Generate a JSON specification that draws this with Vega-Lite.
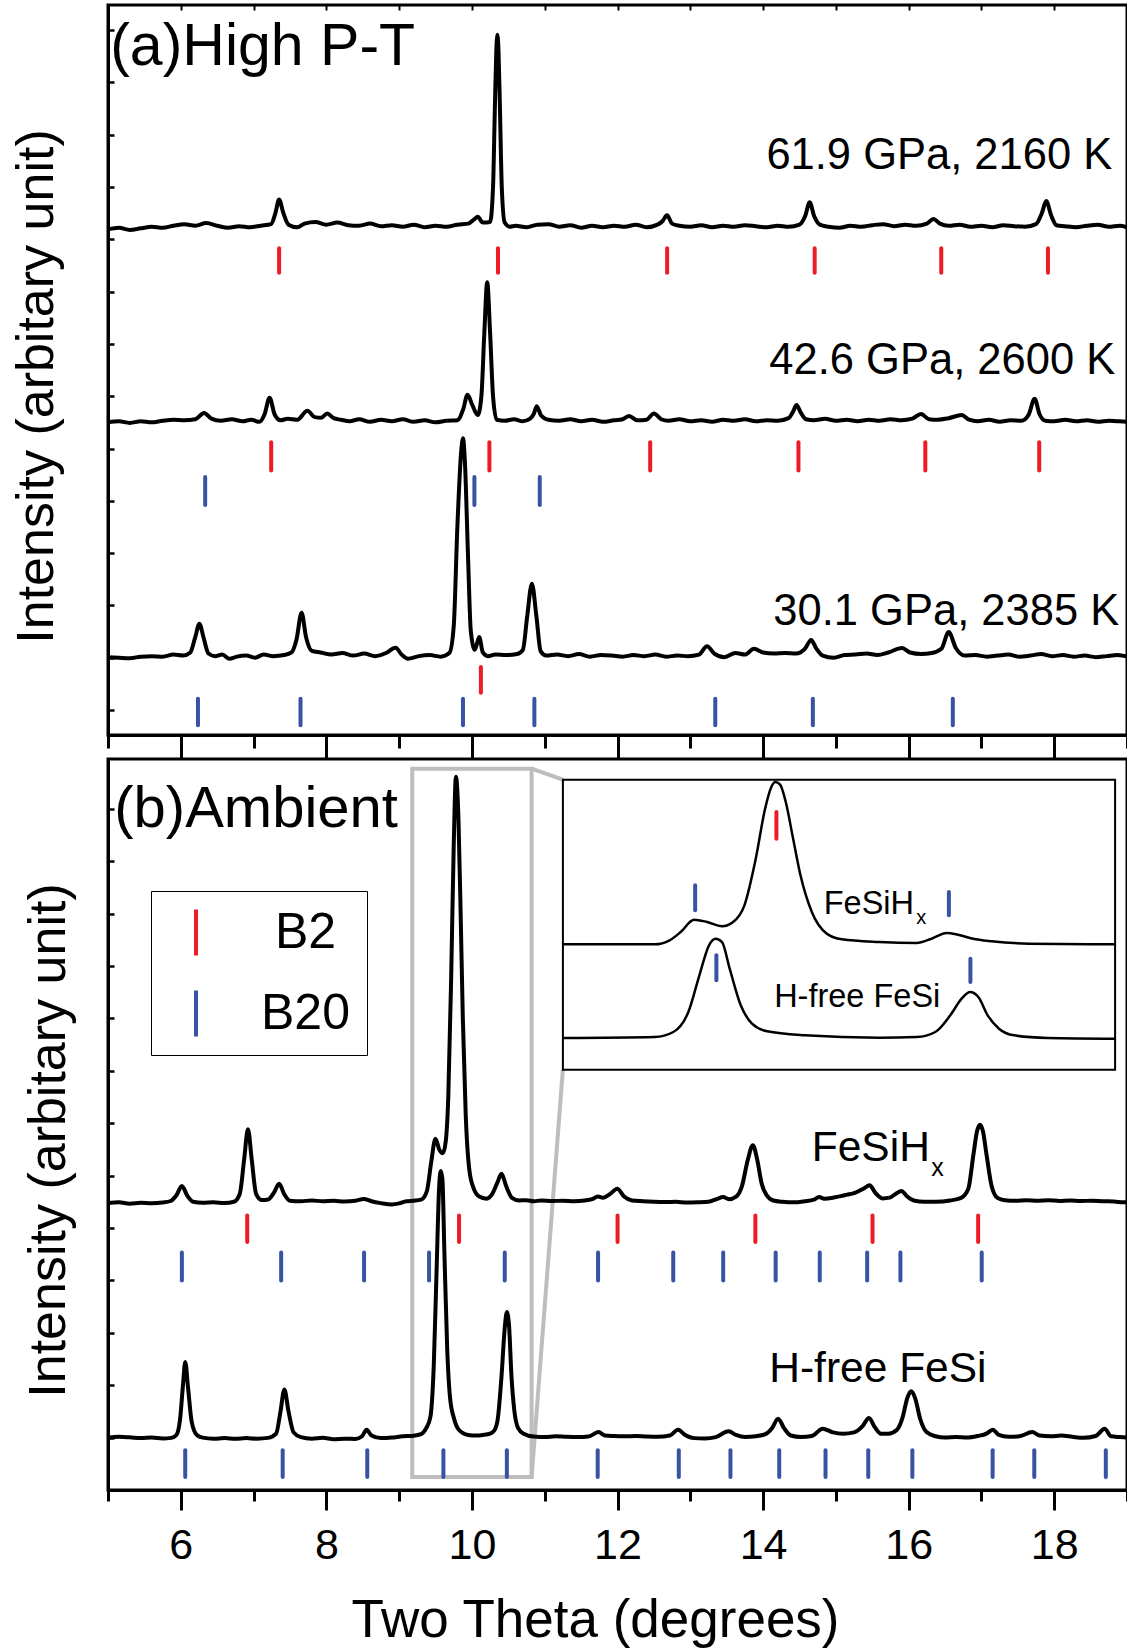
{
"$schema": "https://vega.github.io/schema/vega-lite/v6.json",
"padding": {"left": 8, "top": 2, "right": 0, "bottom": 0},
"spacing": 24,
"bounds": "flush",
"config": {
  "font": "Liberation Sans",
  "view": {"stroke": "black", "strokeWidth": 3},
  "axis": {"grid": false, "domainColor": "black", "domainWidth": 3, "tickColor": "black", "labelColor": "black", "titleColor": "black", "titleFontWeight": "normal", "labelFont": "Liberation Sans", "titleFont": "Liberation Sans"},
  "text": {"font": "Liberation Sans", "color": "black"}
},
"resolve": {"scale": {"color": "independent"}, "legend": {"color": "independent"}},
"datasets": {
  "a_curves": [
{"s":"p62","t":5.0,"v":91.9},{"s":"p62","t":5.15,"v":92.2},{"s":"p62","t":5.3,"v":91.8},{"s":"p62","t":5.45,"v":92.1},{"s":"p62","t":5.6,"v":92.4},{"s":"p62","t":5.75,"v":92.2},{"s":"p62","t":5.9,"v":92.6},{"s":"p62","t":6.05,"v":92.9},{"s":"p62","t":6.2,"v":92.6},{"s":"p62","t":6.35,"v":93.1},{"s":"p62","t":6.5,"v":92.6},{"s":"p62","t":6.65,"v":92.2},{"s":"p62","t":6.8,"v":92.5},{"s":"p62","t":6.95,"v":92.3},{"s":"p62","t":7.1,"v":92.6},{"s":"p62","t":7.24,"v":92.9},{"s":"p62","t":7.3,"v":95.0},{"s":"p62","t":7.35,"v":97.6},{"s":"p62","t":7.41,"v":95.0},{"s":"p62","t":7.48,"v":92.8},{"s":"p62","t":7.6,"v":92.3},{"s":"p62","t":7.7,"v":93.0},{"s":"p62","t":7.85,"v":93.3},{"s":"p62","t":8.0,"v":92.8},{"s":"p62","t":8.15,"v":93.2},{"s":"p62","t":8.3,"v":92.7},{"s":"p62","t":8.45,"v":92.6},{"s":"p62","t":8.6,"v":93.0},{"s":"p62","t":8.75,"v":92.5},{"s":"p62","t":8.9,"v":92.7},{"s":"p62","t":9.05,"v":92.4},{"s":"p62","t":9.2,"v":92.8},{"s":"p62","t":9.35,"v":92.3},{"s":"p62","t":9.5,"v":92.6},{"s":"p62","t":9.65,"v":92.4},{"s":"p62","t":9.8,"v":92.8},{"s":"p62","t":9.95,"v":93.0},{"s":"p62","t":10.03,"v":93.8},{"s":"p62","t":10.08,"v":94.3},{"s":"p62","t":10.15,"v":93.2},{"s":"p62","t":10.25,"v":93.3},{"s":"p62","t":10.29,"v":100},{"s":"p62","t":10.315,"v":115},{"s":"p62","t":10.335,"v":126},{"s":"p62","t":10.35,"v":129.1},{"s":"p62","t":10.365,"v":126},{"s":"p62","t":10.385,"v":115},{"s":"p62","t":10.41,"v":100},{"s":"p62","t":10.45,"v":93.2},{"s":"p62","t":10.52,"v":92.4},{"s":"p62","t":10.6,"v":92.6},{"s":"p62","t":10.75,"v":92.3},{"s":"p62","t":10.9,"v":92.8},{"s":"p62","t":11.05,"v":92.9},{"s":"p62","t":11.2,"v":92.4},{"s":"p62","t":11.35,"v":92.7},{"s":"p62","t":11.5,"v":92.2},{"s":"p62","t":11.65,"v":92.6},{"s":"p62","t":11.8,"v":92.3},{"s":"p62","t":11.95,"v":92.6},{"s":"p62","t":12.1,"v":92.4},{"s":"p62","t":12.25,"v":92.8},{"s":"p62","t":12.4,"v":92.3},{"s":"p62","t":12.55,"v":92.8},{"s":"p62","t":12.62,"v":93.5},{"s":"p62","t":12.68,"v":94.6},{"s":"p62","t":12.75,"v":93.0},{"s":"p62","t":12.85,"v":92.6},{"s":"p62","t":13.0,"v":92.4},{"s":"p62","t":13.15,"v":92.7},{"s":"p62","t":13.3,"v":92.3},{"s":"p62","t":13.45,"v":92.6},{"s":"p62","t":13.6,"v":92.4},{"s":"p62","t":13.75,"v":92.7},{"s":"p62","t":13.9,"v":92.5},{"s":"p62","t":14.05,"v":92.3},{"s":"p62","t":14.2,"v":92.6},{"s":"p62","t":14.35,"v":92.4},{"s":"p62","t":14.5,"v":92.8},{"s":"p62","t":14.58,"v":94.5},{"s":"p62","t":14.64,"v":97.1},{"s":"p62","t":14.7,"v":94.5},{"s":"p62","t":14.78,"v":92.8},{"s":"p62","t":14.9,"v":92.4},{"s":"p62","t":15.05,"v":92.2},{"s":"p62","t":15.2,"v":92.6},{"s":"p62","t":15.35,"v":92.4},{"s":"p62","t":15.5,"v":92.7},{"s":"p62","t":15.65,"v":92.9},{"s":"p62","t":15.8,"v":92.5},{"s":"p62","t":15.95,"v":92.8},{"s":"p62","t":16.1,"v":92.6},{"s":"p62","t":16.25,"v":93.0},{"s":"p62","t":16.34,"v":93.9},{"s":"p62","t":16.43,"v":93.0},{"s":"p62","t":16.55,"v":92.6},{"s":"p62","t":16.7,"v":92.8},{"s":"p62","t":16.85,"v":92.4},{"s":"p62","t":17.0,"v":92.6},{"s":"p62","t":17.15,"v":92.3},{"s":"p62","t":17.3,"v":92.7},{"s":"p62","t":17.45,"v":92.5},{"s":"p62","t":17.6,"v":92.4},{"s":"p62","t":17.75,"v":92.9},{"s":"p62","t":17.83,"v":95.0},{"s":"p62","t":17.89,"v":97.3},{"s":"p62","t":17.96,"v":94.5},{"s":"p62","t":18.03,"v":92.7},{"s":"p62","t":18.15,"v":92.5},{"s":"p62","t":18.3,"v":92.3},{"s":"p62","t":18.45,"v":92.6},{"s":"p62","t":18.6,"v":92.8},{"s":"p62","t":18.75,"v":92.4},{"s":"p62","t":18.9,"v":92.6},{"s":"p62","t":19.0,"v":92.3},
{"s":"p43","t":5.0,"v":55.0},{"s":"p43","t":5.15,"v":55.2},{"s":"p43","t":5.3,"v":54.9},{"s":"p43","t":5.45,"v":55.2},{"s":"p43","t":5.6,"v":55.0},{"s":"p43","t":5.75,"v":55.3},{"s":"p43","t":5.9,"v":55.5},{"s":"p43","t":6.05,"v":55.4},{"s":"p43","t":6.2,"v":55.6},{"s":"p43","t":6.32,"v":56.8},{"s":"p43","t":6.42,"v":55.7},{"s":"p43","t":6.55,"v":55.3},{"s":"p43","t":6.7,"v":55.6},{"s":"p43","t":6.85,"v":55.2},{"s":"p43","t":6.97,"v":55.5},{"s":"p43","t":7.08,"v":55.1},{"s":"p43","t":7.15,"v":56.5},{"s":"p43","t":7.22,"v":59.7},{"s":"p43","t":7.29,"v":56.5},{"s":"p43","t":7.37,"v":55.4},{"s":"p43","t":7.47,"v":55.7},{"s":"p43","t":7.6,"v":55.5},{"s":"p43","t":7.74,"v":57.2},{"s":"p43","t":7.84,"v":56.0},{"s":"p43","t":7.93,"v":55.9},{"s":"p43","t":8.01,"v":56.7},{"s":"p43","t":8.1,"v":55.8},{"s":"p43","t":8.2,"v":55.5},{"s":"p43","t":8.32,"v":55.2},{"s":"p43","t":8.45,"v":55.6},{"s":"p43","t":8.6,"v":55.1},{"s":"p43","t":8.75,"v":55.5},{"s":"p43","t":8.9,"v":55.2},{"s":"p43","t":9.05,"v":55.6},{"s":"p43","t":9.2,"v":55.1},{"s":"p43","t":9.35,"v":55.4},{"s":"p43","t":9.5,"v":55.0},{"s":"p43","t":9.65,"v":55.3},{"s":"p43","t":9.8,"v":55.4},{"s":"p43","t":9.88,"v":57.5},{"s":"p43","t":9.94,"v":60.3},{"s":"p43","t":10.0,"v":58.5},{"s":"p43","t":10.08,"v":56.4},{"s":"p43","t":10.13,"v":60},{"s":"p43","t":10.17,"v":72},{"s":"p43","t":10.21,"v":81.8},{"s":"p43","t":10.25,"v":72},{"s":"p43","t":10.29,"v":60},{"s":"p43","t":10.34,"v":55.5},{"s":"p43","t":10.45,"v":55.3},{"s":"p43","t":10.58,"v":55.6},{"s":"p43","t":10.7,"v":55.2},{"s":"p43","t":10.8,"v":55.7},{"s":"p43","t":10.85,"v":56.6},{"s":"p43","t":10.89,"v":58.1},{"s":"p43","t":10.95,"v":56.3},{"s":"p43","t":11.05,"v":55.5},{"s":"p43","t":11.2,"v":55.3},{"s":"p43","t":11.35,"v":55.6},{"s":"p43","t":11.5,"v":55.2},{"s":"p43","t":11.65,"v":55.5},{"s":"p43","t":11.8,"v":55.1},{"s":"p43","t":11.95,"v":55.4},{"s":"p43","t":12.07,"v":55.6},{"s":"p43","t":12.16,"v":56.2},{"s":"p43","t":12.27,"v":55.4},{"s":"p43","t":12.4,"v":55.5},{"s":"p43","t":12.5,"v":56.7},{"s":"p43","t":12.6,"v":55.6},{"s":"p43","t":12.7,"v":55.3},{"s":"p43","t":12.85,"v":55.6},{"s":"p43","t":13.0,"v":55.2},{"s":"p43","t":13.15,"v":55.4},{"s":"p43","t":13.3,"v":55.1},{"s":"p43","t":13.45,"v":55.5},{"s":"p43","t":13.6,"v":55.3},{"s":"p43","t":13.75,"v":55.6},{"s":"p43","t":13.9,"v":55.2},{"s":"p43","t":14.05,"v":55.4},{"s":"p43","t":14.2,"v":55.3},{"s":"p43","t":14.35,"v":55.8},{"s":"p43","t":14.41,"v":57.0},{"s":"p43","t":14.46,"v":58.3},{"s":"p43","t":14.52,"v":56.8},{"s":"p43","t":14.59,"v":55.6},{"s":"p43","t":14.7,"v":55.4},{"s":"p43","t":14.85,"v":55.7},{"s":"p43","t":15.0,"v":55.3},{"s":"p43","t":15.15,"v":55.5},{"s":"p43","t":15.3,"v":55.2},{"s":"p43","t":15.45,"v":55.5},{"s":"p43","t":15.6,"v":55.3},{"s":"p43","t":15.75,"v":55.6},{"s":"p43","t":15.9,"v":55.4},{"s":"p43","t":16.05,"v":55.7},{"s":"p43","t":16.17,"v":56.6},{"s":"p43","t":16.28,"v":55.6},{"s":"p43","t":16.4,"v":55.5},{"s":"p43","t":16.55,"v":55.8},{"s":"p43","t":16.73,"v":56.4},{"s":"p43","t":16.83,"v":55.5},{"s":"p43","t":16.95,"v":55.2},{"s":"p43","t":17.1,"v":55.5},{"s":"p43","t":17.25,"v":55.1},{"s":"p43","t":17.4,"v":55.4},{"s":"p43","t":17.55,"v":55.3},{"s":"p43","t":17.65,"v":56.5},{"s":"p43","t":17.73,"v":59.5},{"s":"p43","t":17.8,"v":56.5},{"s":"p43","t":17.88,"v":55.3},{"s":"p43","t":18.0,"v":55.2},{"s":"p43","t":18.15,"v":55.5},{"s":"p43","t":18.3,"v":55.2},{"s":"p43","t":18.45,"v":55.4},{"s":"p43","t":18.6,"v":55.1},{"s":"p43","t":18.75,"v":55.3},{"s":"p43","t":18.9,"v":55.2},{"s":"p43","t":19.0,"v":55.1},
{"s":"p30","t":5.0,"v":10.1},{"s":"p30","t":5.15,"v":10.0},{"s":"p30","t":5.3,"v":9.9},{"s":"p30","t":5.45,"v":10.2},{"s":"p30","t":5.6,"v":10.3},{"s":"p30","t":5.75,"v":10.2},{"s":"p30","t":5.9,"v":10.6},{"s":"p30","t":6.03,"v":10.4},{"s":"p30","t":6.13,"v":11.0},{"s":"p30","t":6.2,"v":14.0},{"s":"p30","t":6.256,"v":16.5},{"s":"p30","t":6.31,"v":14.0},{"s":"p30","t":6.38,"v":10.8},{"s":"p30","t":6.47,"v":10.3},{"s":"p30","t":6.57,"v":10.6},{"s":"p30","t":6.67,"v":9.8},{"s":"p30","t":6.77,"v":10.2},{"s":"p30","t":6.9,"v":10.4},{"s":"p30","t":7.02,"v":10.0},{"s":"p30","t":7.14,"v":10.6},{"s":"p30","t":7.27,"v":10.3},{"s":"p30","t":7.42,"v":10.5},{"s":"p30","t":7.52,"v":11.0},{"s":"p30","t":7.59,"v":13.5},{"s":"p30","t":7.66,"v":18.6},{"s":"p30","t":7.72,"v":14.0},{"s":"p30","t":7.8,"v":11.3},{"s":"p30","t":7.92,"v":11.0},{"s":"p30","t":8.07,"v":10.6},{"s":"p30","t":8.22,"v":10.9},{"s":"p30","t":8.37,"v":10.4},{"s":"p30","t":8.52,"v":10.8},{"s":"p30","t":8.67,"v":10.3},{"s":"p30","t":8.82,"v":10.9},{"s":"p30","t":8.95,"v":11.9},{"s":"p30","t":9.04,"v":10.5},{"s":"p30","t":9.12,"v":9.8},{"s":"p30","t":9.27,"v":10.3},{"s":"p30","t":9.42,"v":10.5},{"s":"p30","t":9.57,"v":10.2},{"s":"p30","t":9.69,"v":10.9},{"s":"p30","t":9.75,"v":16},{"s":"p30","t":9.8,"v":35},{"s":"p30","t":9.85,"v":49},{"s":"p30","t":9.877,"v":51.95},{"s":"p30","t":9.905,"v":47},{"s":"p30","t":9.945,"v":30},{"s":"p30","t":9.985,"v":15},{"s":"p30","t":10.04,"v":11.5},{"s":"p30","t":10.1,"v":13.96},{"s":"p30","t":10.15,"v":11.0},{"s":"p30","t":10.22,"v":10.3},{"s":"p30","t":10.32,"v":10.6},{"s":"p30","t":10.47,"v":10.5},{"s":"p30","t":10.62,"v":10.7},{"s":"p30","t":10.7,"v":11.5},{"s":"p30","t":10.76,"v":18},{"s":"p30","t":10.824,"v":24.15},{"s":"p30","t":10.885,"v":18},{"s":"p30","t":10.945,"v":11.2},{"s":"p30","t":11.02,"v":10.4},{"s":"p30","t":11.17,"v":10.6},{"s":"p30","t":11.32,"v":10.3},{"s":"p30","t":11.47,"v":10.7},{"s":"p30","t":11.62,"v":10.2},{"s":"p30","t":11.77,"v":10.5},{"s":"p30","t":11.92,"v":10.4},{"s":"p30","t":12.07,"v":10.2},{"s":"p30","t":12.22,"v":10.5},{"s":"p30","t":12.37,"v":10.3},{"s":"p30","t":12.52,"v":10.6},{"s":"p30","t":12.67,"v":10.2},{"s":"p30","t":12.82,"v":10.4},{"s":"p30","t":12.97,"v":10.3},{"s":"p30","t":13.12,"v":10.6},{"s":"p30","t":13.23,"v":12.2},{"s":"p30","t":13.33,"v":10.8},{"s":"p30","t":13.47,"v":10.1},{"s":"p30","t":13.62,"v":10.9},{"s":"p30","t":13.75,"v":10.6},{"s":"p30","t":13.875,"v":11.7},{"s":"p30","t":14.0,"v":11.0},{"s":"p30","t":14.15,"v":10.8},{"s":"p30","t":14.3,"v":10.9},{"s":"p30","t":14.45,"v":10.8},{"s":"p30","t":14.58,"v":11.8},{"s":"p30","t":14.66,"v":13.4},{"s":"p30","t":14.73,"v":11.8},{"s":"p30","t":14.82,"v":10.4},{"s":"p30","t":14.97,"v":10.0},{"s":"p30","t":15.12,"v":10.5},{"s":"p30","t":15.27,"v":10.6},{"s":"p30","t":15.42,"v":10.8},{"s":"p30","t":15.57,"v":10.5},{"s":"p30","t":15.72,"v":11.0},{"s":"p30","t":15.91,"v":11.85},{"s":"p30","t":16.02,"v":11.0},{"s":"p30","t":16.17,"v":10.7},{"s":"p30","t":16.32,"v":10.9},{"s":"p30","t":16.45,"v":11.7},{"s":"p30","t":16.55,"v":14.9},{"s":"p30","t":16.65,"v":11.8},{"s":"p30","t":16.77,"v":10.4},{"s":"p30","t":16.92,"v":10.5},{"s":"p30","t":17.07,"v":10.2},{"s":"p30","t":17.22,"v":10.4},{"s":"p30","t":17.37,"v":10.6},{"s":"p30","t":17.52,"v":10.2},{"s":"p30","t":17.67,"v":10.4},{"s":"p30","t":17.82,"v":10.7},{"s":"p30","t":17.97,"v":10.3},{"s":"p30","t":18.12,"v":10.5},{"s":"p30","t":18.27,"v":10.2},{"s":"p30","t":18.42,"v":10.4},{"s":"p30","t":18.57,"v":10.1},{"s":"p30","t":18.72,"v":10.3},{"s":"p30","t":18.87,"v":10.5},{"s":"p30","t":19.0,"v":10.2}
  ],
  "a_ticks": [
{"phase":"B2","t":7.351,"v":88.3,"v2":83.6},{"phase":"B2","t":10.358,"v":88.3,"v2":83.6},{"phase":"B2","t":12.682,"v":88.3,"v2":83.6},{"phase":"B2","t":14.709,"v":88.3,"v2":83.6},{"phase":"B2","t":16.448,"v":88.3,"v2":83.6},{"phase":"B2","t":17.914,"v":88.3,"v2":83.6},
{"phase":"B2","t":7.242,"v":51.2,"v2":45.8},{"phase":"B2","t":10.24,"v":51.2,"v2":45.8},{"phase":"B2","t":12.449,"v":51.2,"v2":45.8},{"phase":"B2","t":14.486,"v":51.2,"v2":45.8},{"phase":"B2","t":16.229,"v":51.2,"v2":45.8},{"phase":"B2","t":17.794,"v":51.2,"v2":45.8},
{"phase":"B20","t":6.335,"v":44.55,"v2":39.2},{"phase":"B20","t":10.034,"v":44.55,"v2":39.2},{"phase":"B20","t":10.932,"v":44.55,"v2":39.2},
{"phase":"B2","t":10.123,"v":8.2,"v2":3.3},
{"phase":"B20","t":6.236,"v":2.16,"v2":-2.93},{"phase":"B20","t":7.645,"v":2.16,"v2":-2.93},{"phase":"B20","t":9.877,"v":2.16,"v2":-2.93},{"phase":"B20","t":10.858,"v":2.16,"v2":-2.93},{"phase":"B20","t":13.343,"v":2.16,"v2":-2.93},{"phase":"B20","t":14.684,"v":2.16,"v2":-2.93},{"phase":"B20","t":16.607,"v":2.16,"v2":-2.93}
  ],
  "a_title": [{"t":5.03,"v":123.3,"label":"(a)High P-T"}],
  "a_labels": [
{"t":18.797,"v":103.5,"label":"61.9 GPa, 2160 K"},{"t":18.838,"v":64.3,"label":"42.6 GPa, 2600 K"},{"t":18.893,"v":16.3,"label":"30.1 GPa, 2385 K"}
  ],
  "b_curves": [
{"s":"hx","t":5.0,"v":109.5},{"s":"hx","t":5.15,"v":109.8},{"s":"hx","t":5.3,"v":109.3},{"s":"hx","t":5.45,"v":109.6},{"s":"hx","t":5.6,"v":109.4},{"s":"hx","t":5.75,"v":109.7},{"s":"hx","t":5.86,"v":110.3},{"s":"hx","t":5.94,"v":112.5},{"s":"hx","t":6.015,"v":116.0},{"s":"hx","t":6.09,"v":112.3},{"s":"hx","t":6.17,"v":110.0},{"s":"hx","t":6.3,"v":109.6},{"s":"hx","t":6.45,"v":109.8},{"s":"hx","t":6.6,"v":109.5},{"s":"hx","t":6.73,"v":110.0},{"s":"hx","t":6.81,"v":113},{"s":"hx","t":6.87,"v":126},{"s":"hx","t":6.923,"v":137.7},{"s":"hx","t":6.975,"v":126},{"s":"hx","t":7.035,"v":113},{"s":"hx","t":7.11,"v":110.7},{"s":"hx","t":7.2,"v":110.9},{"s":"hx","t":7.28,"v":113.5},{"s":"hx","t":7.351,"v":116.9},{"s":"hx","t":7.42,"v":113.0},{"s":"hx","t":7.5,"v":110.4},{"s":"hx","t":7.65,"v":110.2},{"s":"hx","t":7.8,"v":110.5},{"s":"hx","t":7.95,"v":110.2},{"s":"hx","t":8.1,"v":110.4},{"s":"hx","t":8.25,"v":110.1},{"s":"hx","t":8.4,"v":110.4},{"s":"hx","t":8.513,"v":111.1},{"s":"hx","t":8.62,"v":110.2},{"s":"hx","t":8.75,"v":109.5},{"s":"hx","t":8.9,"v":109.0},{"s":"hx","t":9.0,"v":109.4},{"s":"hx","t":9.1,"v":110.2},{"s":"hx","t":9.2,"v":110.4},{"s":"hx","t":9.3,"v":110.8},{"s":"hx","t":9.38,"v":114},{"s":"hx","t":9.44,"v":125},{"s":"hx","t":9.499,"v":134.1},{"s":"hx","t":9.55,"v":130},{"s":"hx","t":9.6,"v":128.5},{"s":"hx","t":9.64,"v":133},{"s":"hx","t":9.675,"v":150},{"s":"hx","t":9.715,"v":196},{"s":"hx","t":9.75,"v":246},{"s":"hx","t":9.78,"v":272.2},{"s":"hx","t":9.815,"v":256},{"s":"hx","t":9.845,"v":220},{"s":"hx","t":9.875,"v":180},{"s":"hx","t":9.915,"v":143},{"s":"hx","t":9.965,"v":122},{"s":"hx","t":10.025,"v":115},{"s":"hx","t":10.1,"v":112},{"s":"hx","t":10.2,"v":111.2},{"s":"hx","t":10.28,"v":113},{"s":"hx","t":10.345,"v":117},{"s":"hx","t":10.407,"v":120.7},{"s":"hx","t":10.47,"v":116},{"s":"hx","t":10.55,"v":111.5},{"s":"hx","t":10.65,"v":110.5},{"s":"hx","t":10.75,"v":110.6},{"s":"hx","t":10.85,"v":110.2},{"s":"hx","t":10.95,"v":110.5},{"s":"hx","t":11.1,"v":110.3},{"s":"hx","t":11.25,"v":110.4},{"s":"hx","t":11.4,"v":110.2},{"s":"hx","t":11.55,"v":110.5},{"s":"hx","t":11.65,"v":111.0},{"s":"hx","t":11.73,"v":112.0},{"s":"hx","t":11.8,"v":111.5},{"s":"hx","t":11.9,"v":113.0},{"s":"hx","t":11.997,"v":115.0},{"s":"hx","t":12.09,"v":112.0},{"s":"hx","t":12.2,"v":110.5},{"s":"hx","t":12.35,"v":110.2},{"s":"hx","t":12.5,"v":110.0},{"s":"hx","t":12.65,"v":109.9},{"s":"hx","t":12.8,"v":110.0},{"s":"hx","t":12.95,"v":109.7},{"s":"hx","t":13.1,"v":109.8},{"s":"hx","t":13.25,"v":110.0},{"s":"hx","t":13.36,"v":111.0},{"s":"hx","t":13.453,"v":111.8},{"s":"hx","t":13.53,"v":111.0},{"s":"hx","t":13.63,"v":112.0},{"s":"hx","t":13.71,"v":116},{"s":"hx","t":13.79,"v":126},{"s":"hx","t":13.86,"v":131.6},{"s":"hx","t":13.92,"v":126},{"s":"hx","t":13.98,"v":117},{"s":"hx","t":14.05,"v":112.5},{"s":"hx","t":14.14,"v":110.5},{"s":"hx","t":14.27,"v":110.0},{"s":"hx","t":14.42,"v":109.8},{"s":"hx","t":14.57,"v":110.2},{"s":"hx","t":14.7,"v":110.8},{"s":"hx","t":14.769,"v":111.8},{"s":"hx","t":14.84,"v":111.2},{"s":"hx","t":14.97,"v":111.6},{"s":"hx","t":15.12,"v":112.5},{"s":"hx","t":15.27,"v":113.5},{"s":"hx","t":15.38,"v":115.0},{"s":"hx","t":15.464,"v":116.3},{"s":"hx","t":15.54,"v":113.5},{"s":"hx","t":15.64,"v":111.3},{"s":"hx","t":15.74,"v":111.6},{"s":"hx","t":15.82,"v":113.0},{"s":"hx","t":15.901,"v":114.1},{"s":"hx","t":15.98,"v":112.0},{"s":"hx","t":16.07,"v":110.5},{"s":"hx","t":16.22,"v":110.0},{"s":"hx","t":16.37,"v":110.0},{"s":"hx","t":16.57,"v":110.5},{"s":"hx","t":16.72,"v":111.5},{"s":"hx","t":16.82,"v":115},{"s":"hx","t":16.89,"v":128},{"s":"hx","t":16.94,"v":137},{"s":"hx","t":16.98,"v":139.4},{"s":"hx","t":17.02,"v":137},{"s":"hx","t":17.07,"v":128},{"s":"hx","t":17.14,"v":116},{"s":"hx","t":17.22,"v":111.5},{"s":"hx","t":17.32,"v":110.6},{"s":"hx","t":17.47,"v":110.4},{"s":"hx","t":17.62,"v":110.6},{"s":"hx","t":17.77,"v":110.4},{"s":"hx","t":17.92,"v":110.6},{"s":"hx","t":18.07,"v":110.3},{"s":"hx","t":18.22,"v":110.5},{"s":"hx","t":18.37,"v":110.3},{"s":"hx","t":18.52,"v":110.4},{"s":"hx","t":18.67,"v":110.2},{"s":"hx","t":18.82,"v":110.1},{"s":"hx","t":18.95,"v":109.8},{"s":"hx","t":19.0,"v":109.8},
{"s":"hf","t":5.0,"v":20.0},{"s":"hf","t":5.15,"v":20.3},{"s":"hf","t":5.3,"v":20.1},{"s":"hf","t":5.45,"v":19.8},{"s":"hf","t":5.6,"v":20.0},{"s":"hf","t":5.75,"v":19.7},{"s":"hf","t":5.87,"v":19.9},{"s":"hf","t":5.94,"v":21.0},{"s":"hf","t":5.99,"v":27},{"s":"hf","t":6.03,"v":40},{"s":"hf","t":6.061,"v":48.9},{"s":"hf","t":6.1,"v":39},{"s":"hf","t":6.15,"v":26},{"s":"hf","t":6.22,"v":21.0},{"s":"hf","t":6.3,"v":20.0},{"s":"hf","t":6.45,"v":19.6},{"s":"hf","t":6.6,"v":19.8},{"s":"hf","t":6.75,"v":19.6},{"s":"hf","t":6.9,"v":19.8},{"s":"hf","t":7.05,"v":19.6},{"s":"hf","t":7.2,"v":19.9},{"s":"hf","t":7.31,"v":21.5},{"s":"hf","t":7.37,"v":30},{"s":"hf","t":7.423,"v":38.4},{"s":"hf","t":7.48,"v":30},{"s":"hf","t":7.55,"v":22},{"s":"hf","t":7.65,"v":20.2},{"s":"hf","t":7.8,"v":19.6},{"s":"hf","t":7.95,"v":19.9},{"s":"hf","t":8.1,"v":19.4},{"s":"hf","t":8.25,"v":19.6},{"s":"hf","t":8.4,"v":19.5},{"s":"hf","t":8.49,"v":20.5},{"s":"hf","t":8.553,"v":23.0},{"s":"hf","t":8.62,"v":20.8},{"s":"hf","t":8.75,"v":19.8},{"s":"hf","t":8.9,"v":20.0},{"s":"hf","t":9.05,"v":20.5},{"s":"hf","t":9.2,"v":20.7},{"s":"hf","t":9.3,"v":21.3},{"s":"hf","t":9.37,"v":23.5},{"s":"hf","t":9.43,"v":28},{"s":"hf","t":9.475,"v":47},{"s":"hf","t":9.515,"v":84.4},{"s":"hf","t":9.548,"v":114.7},{"s":"hf","t":9.571,"v":121.8},{"s":"hf","t":9.594,"v":118.8},{"s":"hf","t":9.621,"v":91.5},{"s":"hf","t":9.66,"v":54.1},{"s":"hf","t":9.7,"v":35},{"s":"hf","t":9.753,"v":27.4},{"s":"hf","t":9.82,"v":23},{"s":"hf","t":9.95,"v":21.0},{"s":"hf","t":10.05,"v":20.8},{"s":"hf","t":10.15,"v":21.0},{"s":"hf","t":10.25,"v":21.5},{"s":"hf","t":10.31,"v":22.8},{"s":"hf","t":10.355,"v":27.1},{"s":"hf","t":10.408,"v":44},{"s":"hf","t":10.448,"v":60.9},{"s":"hf","t":10.48,"v":67.9},{"s":"hf","t":10.51,"v":62.7},{"s":"hf","t":10.542,"v":44},{"s":"hf","t":10.582,"v":30.4},{"s":"hf","t":10.635,"v":23.6},{"s":"hf","t":10.71,"v":21.5},{"s":"hf","t":10.85,"v":20.4},{"s":"hf","t":11.0,"v":20.2},{"s":"hf","t":11.15,"v":20.5},{"s":"hf","t":11.3,"v":20.3},{"s":"hf","t":11.45,"v":20.2},{"s":"hf","t":11.6,"v":20.4},{"s":"hf","t":11.739,"v":22.1},{"s":"hf","t":11.83,"v":20.8},{"s":"hf","t":11.95,"v":20.6},{"s":"hf","t":12.1,"v":20.5},{"s":"hf","t":12.25,"v":20.6},{"s":"hf","t":12.4,"v":20.4},{"s":"hf","t":12.55,"v":20.3},{"s":"hf","t":12.72,"v":20.8},{"s":"hf","t":12.831,"v":23.0},{"s":"hf","t":12.93,"v":21.0},{"s":"hf","t":13.05,"v":19.8},{"s":"hf","t":13.2,"v":19.7},{"s":"hf","t":13.35,"v":20.2},{"s":"hf","t":13.527,"v":22.4},{"s":"hf","t":13.63,"v":21.0},{"s":"hf","t":13.75,"v":20.2},{"s":"hf","t":13.9,"v":20.5},{"s":"hf","t":14.03,"v":21.3},{"s":"hf","t":14.12,"v":23.5},{"s":"hf","t":14.207,"v":27.2},{"s":"hf","t":14.29,"v":23.5},{"s":"hf","t":14.38,"v":20.8},{"s":"hf","t":14.52,"v":20.2},{"s":"hf","t":14.67,"v":20.6},{"s":"hf","t":14.819,"v":23.4},{"s":"hf","t":14.96,"v":22.0},{"s":"hf","t":15.1,"v":21.5},{"s":"hf","t":15.25,"v":22.0},{"s":"hf","t":15.37,"v":24.5},{"s":"hf","t":15.455,"v":27.5},{"s":"hf","t":15.535,"v":24.0},{"s":"hf","t":15.62,"v":21.5},{"s":"hf","t":15.72,"v":21.5},{"s":"hf","t":15.84,"v":23},{"s":"hf","t":15.92,"v":28},{"s":"hf","t":15.98,"v":35},{"s":"hf","t":16.036,"v":37.7},{"s":"hf","t":16.09,"v":35},{"s":"hf","t":16.16,"v":27},{"s":"hf","t":16.25,"v":22},{"s":"hf","t":16.37,"v":20.5},{"s":"hf","t":16.5,"v":20.0},{"s":"hf","t":16.65,"v":20.2},{"s":"hf","t":16.8,"v":20.0},{"s":"hf","t":16.95,"v":20.6},{"s":"hf","t":17.07,"v":21.5},{"s":"hf","t":17.154,"v":23.0},{"s":"hf","t":17.24,"v":21.0},{"s":"hf","t":17.37,"v":20.3},{"s":"hf","t":17.52,"v":20.5},{"s":"hf","t":17.698,"v":22.1},{"s":"hf","t":17.8,"v":20.8},{"s":"hf","t":17.95,"v":20.5},{"s":"hf","t":18.1,"v":20.8},{"s":"hf","t":18.25,"v":20.3},{"s":"hf","t":18.4,"v":19.9},{"s":"hf","t":18.57,"v":20.6},{"s":"hf","t":18.694,"v":23.4},{"s":"hf","t":18.78,"v":20.5},{"s":"hf","t":18.9,"v":20.2},{"s":"hf","t":19.0,"v":20.0}
  ],
  "b_ticks": [
{"phase":"B2","t":6.913,"v":104.8,"v2":94.7},{"phase":"B2","t":9.823,"v":104.8,"v2":94.7},{"phase":"B2","t":12.001,"v":104.8,"v2":94.7},{"phase":"B2","t":13.894,"v":104.8,"v2":94.7},{"phase":"B2","t":15.504,"v":104.8,"v2":94.7},{"phase":"B2","t":16.955,"v":104.8,"v2":94.7},
{"phase":"B20","t":6.015,"v":90.6,"v2":80.0},{"phase":"B20","t":7.379,"v":90.6,"v2":80.0},{"phase":"B20","t":8.518,"v":90.6,"v2":80.0},{"phase":"B20","t":9.411,"v":90.6,"v2":80.0},{"phase":"B20","t":10.451,"v":90.6,"v2":80.0},{"phase":"B20","t":11.733,"v":90.6,"v2":80.0},{"phase":"B20","t":12.766,"v":90.6,"v2":80.0},{"phase":"B20","t":13.452,"v":90.6,"v2":80.0},{"phase":"B20","t":14.173,"v":90.6,"v2":80.0},{"phase":"B20","t":14.779,"v":90.6,"v2":80.0},{"phase":"B20","t":15.43,"v":90.6,"v2":80.0},{"phase":"B20","t":15.887,"v":90.6,"v2":80.0},{"phase":"B20","t":17.004,"v":90.6,"v2":80.0},
{"phase":"B20","t":6.061,"v":15.15,"v2":4.96},{"phase":"B20","t":7.4,"v":15.15,"v2":4.96},{"phase":"B20","t":8.562,"v":15.15,"v2":4.96},{"phase":"B20","t":9.608,"v":15.15,"v2":4.96},{"phase":"B20","t":10.48,"v":15.15,"v2":4.96},{"phase":"B20","t":11.728,"v":15.15,"v2":4.96},{"phase":"B20","t":12.842,"v":15.15,"v2":4.96},{"phase":"B20","t":13.552,"v":15.15,"v2":4.96},{"phase":"B20","t":14.222,"v":15.15,"v2":4.96},{"phase":"B20","t":14.858,"v":15.15,"v2":4.96},{"phase":"B20","t":15.445,"v":15.15,"v2":4.96},{"phase":"B20","t":16.051,"v":15.15,"v2":4.96},{"phase":"B20","t":17.154,"v":15.15,"v2":4.96},{"phase":"B20","t":17.726,"v":15.15,"v2":4.96},{"phase":"B20","t":18.709,"v":15.15,"v2":4.96}
  ],
  "b_zoombox": [{"t1":9.18,"t2":10.82,"v1":4.96,"v2":275.3}],
  "b_connectors": [{"t":10.82,"v":275.3,"t2":11.249,"v2":271.1},{"t":10.82,"v":4.96,"t2":11.249,"v2":160.4}],
  "b_title": [{"t":5.086,"v":253.1,"label":"(b)Ambient"}],
  "b_labels": [{"t":14.669,"v":125.6,"label":"FeSiH"},{"t":14.085,"v":41.2,"label":"H-free FeSi"}],
  "b_sub": [{"t":16.31,"v":119.85,"label":"x"}],
  "inset_frame": [{"t1":9.03,"t2":10.98,"v1":0,"v2":100}],
  "inset_curves": [
{"s":"hx","t":9.03,"v":43.24},{"s":"hx","t":9.354,"v":43.24},{"s":"hx","t":9.407,"v":44.62},{"s":"hx","t":9.446,"v":47.48},{"s":"hx","t":9.493,"v":51.72},{"s":"hx","t":9.539,"v":50.93},{"s":"hx","t":9.592,"v":49.45},{"s":"hx","t":9.631,"v":50.93},{"s":"hx","t":9.671,"v":56.69},{"s":"hx","t":9.711,"v":72.76},{"s":"hx","t":9.744,"v":90.0},{"s":"hx","t":9.766,"v":97.5},{"s":"hx","t":9.78,"v":99.2},{"s":"hx","t":9.797,"v":98.28},{"s":"hx","t":9.817,"v":92.3},{"s":"hx","t":9.843,"v":79.66},{"s":"hx","t":9.869,"v":67.03},{"s":"hx","t":9.909,"v":54.38},{"s":"hx","t":9.962,"v":46.9},{"s":"hx","t":10.015,"v":44.97},{"s":"hx","t":10.147,"v":44.03},{"s":"hx","t":10.279,"v":43.69},{"s":"hx","t":10.332,"v":45.17},{"s":"hx","t":10.385,"v":47.14},{"s":"hx","t":10.425,"v":46.55},{"s":"hx","t":10.478,"v":45.17},{"s":"hx","t":10.544,"v":44.28},{"s":"hx","t":10.676,"v":43.45},{"s":"hx","t":10.98,"v":43.24},
{"s":"hf","t":9.03,"v":10.93},{"s":"hf","t":9.354,"v":11.28},{"s":"hf","t":9.42,"v":13.0},{"s":"hf","t":9.473,"v":19.9},{"s":"hf","t":9.512,"v":32.55},{"s":"hf","t":9.546,"v":42.9},{"s":"hf","t":9.569,"v":45.17},{"s":"hf","t":9.592,"v":44.03},{"s":"hf","t":9.619,"v":34.83},{"s":"hf","t":9.658,"v":22.2},{"s":"hf","t":9.698,"v":15.86},{"s":"hf","t":9.751,"v":13.24},{"s":"hf","t":9.884,"v":11.86},{"s":"hf","t":10.147,"v":11.03},{"s":"hf","t":10.279,"v":11.28},{"s":"hf","t":10.345,"v":13.0},{"s":"hf","t":10.398,"v":18.76},{"s":"hf","t":10.438,"v":24.48},{"s":"hf","t":10.468,"v":26.79},{"s":"hf","t":10.497,"v":25.07},{"s":"hf","t":10.53,"v":18.76},{"s":"hf","t":10.57,"v":14.14},{"s":"hf","t":10.623,"v":11.86},{"s":"hf","t":10.742,"v":10.93},{"s":"hf","t":10.98,"v":10.69}
  ],
  "inset_ticks": [
{"phase":"B2","t":9.784,"v":88.86,"v2":79.66},{"phase":"B20","t":9.497,"v":63.6,"v2":54.97},{"phase":"B20","t":10.393,"v":61.28,"v2":53.24},{"phase":"B20","t":9.572,"v":39.45,"v2":30.83},{"phase":"B20","t":10.469,"v":38.28,"v2":30.24}
  ],
  "inset_labels": [{"t":9.951,"v":53.8,"label":"FeSiH"},{"t":9.776,"v":21.6,"label":"H-free FeSi"}],
  "inset_sub": [{"t":10.278,"v":50.3,"label":"x"}]
},
"vconcat": [
 {
  "width": 1019, "height": 730,
  "resolve": {"axis": {"x": "independent"}},
  "layer": [
   {"data": {"name": "a_curves"},
    "mark": {"type": "line", "color": "black", "strokeWidth": 4, "interpolate": "monotone", "strokeJoin": "round"},
    "encoding": {
      "x": {"field": "t", "type": "quantitative", "scale": {"domain": [5, 19], "nice": false, "zero": false},
            "axis": {"values": [5,6,7,8,9,10,11,12,13,14,15,16,17,18,19], "labels": false, "title": null, "tickWidth": 3,
                     "tickSize": {"condition": {"test": "datum.value % 2 === 0", "value": 24}, "value": 13}}},
      "y": {"field": "v", "type": "quantitative", "scale": {"domain": [-4.78, 134.8], "nice": false, "zero": false},
            "axis": {"values": [0,10,20,30,40,50,60,70,80,90,100,110,120,130], "labels": false, "tickSize": -6, "tickWidth": 2.5,
                     "title": "Intensity (arbitary unit)", "titleFontSize": 52, "titleAngle": 270, "titleX": -56, "titleY": 381,
                     "titleBaseline": "alphabetic", "titleAlign": "center"}},
      "detail": {"field": "s"}
    }},
   {"data": {"name": "a_ticks"},
    "mark": {"type": "rule", "strokeWidth": 4, "strokeCap": "round"},
    "encoding": {
      "x": {"field": "t", "type": "quantitative", "scale": {"domain": [5, 19], "nice": false, "zero": false},
            "axis": {"orient": "top", "values": [5,6,7,8,9,10,11,12,13,14,15,16,17,18,19], "labels": false, "title": null, "domain": false, "tickSize": -5, "tickWidth": 2}},
      "y": {"field": "v", "type": "quantitative", "scale": {"domain": [-4.78, 134.8], "nice": false, "zero": false}, "axis": {"title": "Intensity (arbitary unit)"}},
      "y2": {"field": "v2"},
      "color": {"field": "phase", "type": "nominal", "scale": {"domain": ["B2", "B20"], "range": ["#ec1c24", "#3953a4"]}, "legend": null}
    }},
   {"data": {"name": "a_title"},
    "mark": {"type": "text", "fontSize": 59, "align": "left", "baseline": "alphabetic"},
    "encoding": {
      "x": {"field": "t", "type": "quantitative", "scale": {"domain": [5, 19], "nice": false, "zero": false}, "axis": null},
      "y": {"field": "v", "type": "quantitative", "scale": {"domain": [-4.78, 134.8], "nice": false, "zero": false}, "axis": {"title": "Intensity (arbitary unit)"}},
      "text": {"field": "label"}
    }},
   {"data": {"name": "a_labels"},
    "mark": {"type": "text", "fontSize": 43.5, "align": "right", "baseline": "alphabetic"},
    "encoding": {
      "x": {"field": "t", "type": "quantitative", "scale": {"domain": [5, 19], "nice": false, "zero": false}, "axis": null},
      "y": {"field": "v", "type": "quantitative", "scale": {"domain": [-4.78, 134.8], "nice": false, "zero": false}, "axis": {"title": "Intensity (arbitary unit)"}},
      "text": {"field": "label"}
    }}
  ]
 },
 {
  "width": 1019, "height": 731,
  "resolve": {"scale": {"x": "independent", "y": "independent"}},
  "layer": [
   {"layer": [
     {"data": {"name": "b_zoombox"},
      "mark": {"type": "rect", "fill": "white", "fillOpacity": 0, "stroke": "#bdbdbd", "strokeWidth": 4},
      "encoding": {
        "x": {"field": "t1", "type": "quantitative", "scale": {"domain": [5, 19], "nice": false, "zero": false}},
        "x2": {"field": "t2"},
        "y": {"field": "v1", "type": "quantitative", "scale": {"domain": [0, 279], "nice": false, "zero": false}},
        "y2": {"field": "v2"}
      }},
     {"data": {"name": "b_connectors"},
      "mark": {"type": "rule", "stroke": "#bdbdbd", "strokeWidth": 4},
      "encoding": {
        "x": {"field": "t", "type": "quantitative", "scale": {"domain": [5, 19], "nice": false, "zero": false}},
        "x2": {"field": "t2"},
        "y": {"field": "v", "type": "quantitative", "scale": {"domain": [0, 279], "nice": false, "zero": false}},
        "y2": {"field": "v2"}
      }},
     {"data": {"name": "b_curves"},
      "mark": {"type": "line", "color": "black", "strokeWidth": 4, "interpolate": "monotone", "strokeJoin": "round"},
      "encoding": {
        "x": {"field": "t", "type": "quantitative", "scale": {"domain": [5, 19], "nice": false, "zero": false},
              "axis": {"values": [5,6,7,8,9,10,11,12,13,14,15,16,17,18,19], "format": "d",
                       "labelExpr": "datum.value % 2 === 0 ? datum.label : ''",
                       "labelFontSize": 43, "labelBaseline": "alphabetic", "labelPadding": 48, "labelFlush": false, "labelOverlap": false,
                       "tickWidth": 3, "tickSize": {"condition": {"test": "datum.value % 2 === 0", "value": 20}, "value": 11},
                       "title": "Two Theta (degrees)", "titleFontSize": 53, "titleX": 487, "titleY": 146, "titleBaseline": "alphabetic", "titleAlign": "center"}},
        "y": {"field": "v", "type": "quantitative", "scale": {"domain": [0, 279], "nice": false, "zero": false},
              "axis": {"values": [0,10,20,30,40,50,60,70,80,90,100,110,120,130,140,150,160,170,180,190,200,210,220,230,240,250,260,270],
                       "labels": false, "tickSize": -6, "tickWidth": 2.5,
                       "title": "Intensity (arbitary unit)", "titleFontSize": 52, "titleAngle": 270, "titleX": -44, "titleY": 381,
                       "titleBaseline": "alphabetic", "titleAlign": "center"}},
        "detail": {"field": "s"}
      }},
     {"data": {"name": "b_ticks"},
      "mark": {"type": "rule", "strokeWidth": 4, "strokeCap": "round"},
      "encoding": {
        "x": {"field": "t", "type": "quantitative", "scale": {"domain": [5, 19], "nice": false, "zero": false}},
        "y": {"field": "v", "type": "quantitative", "scale": {"domain": [0, 279], "nice": false, "zero": false}},
        "y2": {"field": "v2"},
        "color": {"field": "phase", "type": "nominal", "scale": {"domain": ["B2", "B20"], "range": ["#ec1c24", "#3953a4"]},
                  "legend": {"orient": "none", "legendX": 43, "legendY": 132, "title": null, "strokeColor": "black", "padding": 16.5,
                             "symbolType": "M0,-1L0,1", "symbolSize": 2100, "symbolStrokeWidth": 4, "symbolOffset": 3.5,
                             "labelFontSize": 50, "labelFont": "Liberation Sans", "labelColor": "black", "labelAlign": "center", "labelOffset": 84.5,
                             "labelBaseline": "middle", "rowPadding": 31, "clipHeight": 50, "labelLimit": 300}}
      }},
     {"data": {"name": "b_title"},
      "mark": {"type": "text", "fontSize": 58, "align": "left", "baseline": "alphabetic"},
      "encoding": {
        "x": {"field": "t", "type": "quantitative", "scale": {"domain": [5, 19], "nice": false, "zero": false}},
        "y": {"field": "v", "type": "quantitative", "scale": {"domain": [0, 279], "nice": false, "zero": false}},
        "text": {"field": "label"}
      }},
     {"data": {"name": "b_labels"},
      "mark": {"type": "text", "fontSize": 42.5, "align": "left", "baseline": "alphabetic"},
      "encoding": {
        "x": {"field": "t", "type": "quantitative", "scale": {"domain": [5, 19], "nice": false, "zero": false}},
        "y": {"field": "v", "type": "quantitative", "scale": {"domain": [0, 279], "nice": false, "zero": false}},
        "text": {"field": "label"}
      }},
     {"data": {"name": "b_sub"},
      "mark": {"type": "text", "fontSize": 25, "align": "left", "baseline": "alphabetic"},
      "encoding": {
        "x": {"field": "t", "type": "quantitative", "scale": {"domain": [5, 19], "nice": false, "zero": false}},
        "y": {"field": "v", "type": "quantitative", "scale": {"domain": [0, 279], "nice": false, "zero": false}},
        "text": {"field": "label"}
      }}
   ]},
   {"layer": [
     {"data": {"name": "inset_frame"},
      "mark": {"type": "rect", "fill": "white", "stroke": "black", "strokeWidth": 2},
      "encoding": {
        "x": {"field": "t1", "type": "quantitative", "scale": {"domain": [9.03, 10.98], "range": [454.9, 1007.1], "nice": false, "zero": false}, "axis": null},
        "x2": {"field": "t2"},
        "y": {"field": "v1", "type": "quantitative", "scale": {"domain": [0, 100], "range": [310.7, 20.7], "nice": false, "zero": false}, "axis": null},
        "y2": {"field": "v2"}
      }},
     {"data": {"name": "inset_curves"},
      "mark": {"type": "line", "color": "black", "strokeWidth": 2.5, "interpolate": "monotone"},
      "encoding": {
        "x": {"field": "t", "type": "quantitative", "scale": {"domain": [9.03, 10.98], "range": [454.9, 1007.1], "nice": false, "zero": false}, "axis": null},
        "y": {"field": "v", "type": "quantitative", "scale": {"domain": [0, 100], "range": [310.7, 20.7], "nice": false, "zero": false}, "axis": null},
        "detail": {"field": "s"}
      }},
     {"data": {"name": "inset_ticks"},
      "mark": {"type": "rule", "strokeWidth": 4, "strokeCap": "round"},
      "encoding": {
        "x": {"field": "t", "type": "quantitative", "scale": {"domain": [9.03, 10.98], "range": [454.9, 1007.1], "nice": false, "zero": false}, "axis": null},
        "y": {"field": "v", "type": "quantitative", "scale": {"domain": [0, 100], "range": [310.7, 20.7], "nice": false, "zero": false}, "axis": null},
        "y2": {"field": "v2"},
        "color": {"field": "phase", "type": "nominal", "scale": {"domain": ["B2", "B20"], "range": ["#ec1c24", "#3953a4"]}, "legend": null}
      }},
     {"data": {"name": "inset_labels"},
      "mark": {"type": "text", "fontSize": 32.5, "align": "left", "baseline": "alphabetic"},
      "encoding": {
        "x": {"field": "t", "type": "quantitative", "scale": {"domain": [9.03, 10.98], "range": [454.9, 1007.1], "nice": false, "zero": false}, "axis": null},
        "y": {"field": "v", "type": "quantitative", "scale": {"domain": [0, 100], "range": [310.7, 20.7], "nice": false, "zero": false}, "axis": null},
        "text": {"field": "label"}
      }},
     {"data": {"name": "inset_sub"},
      "mark": {"type": "text", "fontSize": 20, "align": "left", "baseline": "alphabetic"},
      "encoding": {
        "x": {"field": "t", "type": "quantitative", "scale": {"domain": [9.03, 10.98], "range": [454.9, 1007.1], "nice": false, "zero": false}, "axis": null},
        "y": {"field": "v", "type": "quantitative", "scale": {"domain": [0, 100], "range": [310.7, 20.7], "nice": false, "zero": false}, "axis": null},
        "text": {"field": "label"}
      }}
   ]}
  ]
 }
]
}
